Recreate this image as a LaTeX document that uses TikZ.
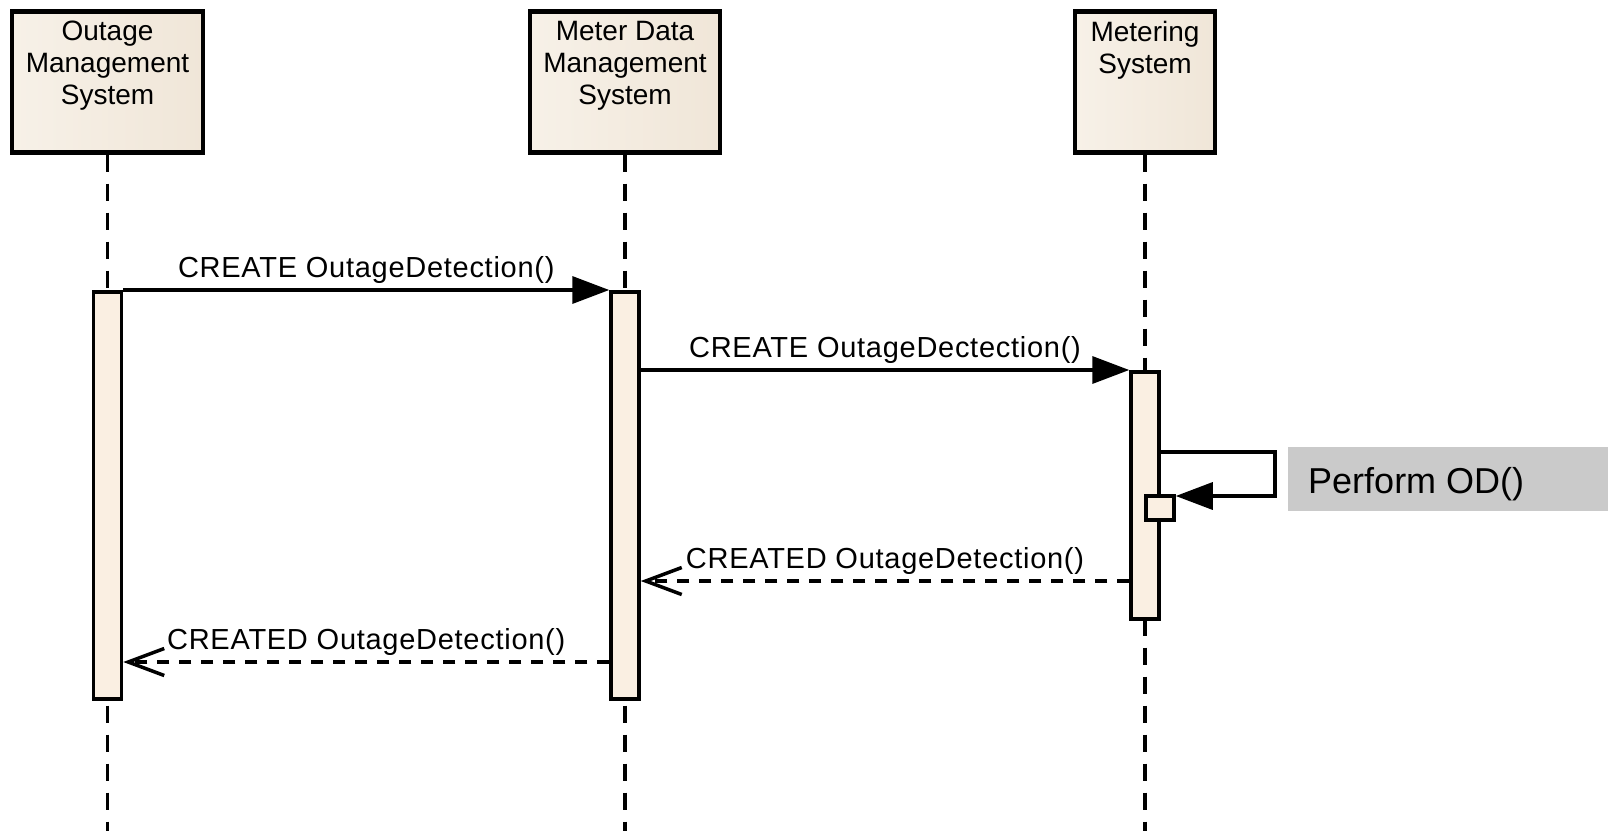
\documentclass[tikz,border=0pt]{standalone}
\usepackage{fontspec}
\setmainfont{Liberation Sans}
\newfontfamily\msgfont[LetterSpace=2.5]{Liberation Sans}
\usetikzlibrary{arrows.meta, calc, positioning}

\definecolor{headfill}{HTML}{F7F1E8}
\definecolor{headshade}{HTML}{F0E6D8}
\definecolor{barfill}{HTML}{FAEFE2}
\definecolor{notefill}{HTML}{CACACA}

\begin{document}
\begin{tikzpicture}[x=1pt, y=-1pt,
        head/.style={draw, line width=4.5pt, minimum height=141pt, inner sep=0pt, anchor=north,
            left color=headfill, right color=headshade},
        headtext/.style={align=center, inner sep=0pt, font=\fontsize{28}{32}\selectfont},
        life/.style={line width=3.5pt, dash pattern=on 17pt off 12pt},
        act/.style={draw, line width=3.5pt, fill=barfill, minimum width=28pt, inner sep=0pt, anchor=north},
        call/.style={line width=3.5pt, -{Triangle[length=37pt, width=27pt]}},
        reply/.style={line width=3.5pt, dash pattern=on 12pt off 10pt,
            -{Straight Barb[length=36pt, width=27pt, line width=3.5pt]}},
        msg/.style={above=5pt, inner sep=0pt, font=\msgfont\fontsize{29}{34}\selectfont},
        note/.style={fill=notefill, anchor=north west, minimum width=320pt, minimum height=64pt, inner sep=0pt},
        notetext/.style={inner sep=0pt, font=\fontsize{36}{40}\selectfont}]
        \useasboundingbox (0,0) rectangle (1608,830);
        \coordinate (Bottom) at (0,832);

        \node[head, minimum width=191pt] (Oms) at (107.5,9) {};
        \node[head, minimum width=190pt] (Mdms) at (625,9) {};
        \node[head, minimum width=140pt] (Ms) at (1145,9) {};
        \node[headtext, below=12pt of Oms.north] {Outage\\Management\\System};
        \node[headtext, below=12pt of Mdms.north] {Meter Data\\Management\\System};
        \node[headtext, below=12pt of Ms.north] {Metering\\System};

        \draw[life] (Oms.south) -- (Oms.south |- Bottom);
        \draw[life] (Mdms.south) -- (Mdms.south |- Bottom);
        \draw[life] (Ms.south) -- (Ms.south |- Bottom);

        \node[act, minimum height=407pt] (Aoms) at (Oms.south |- 0,290) {};
        \node[act, minimum height=407pt] (Amdms) at (Mdms.south |- 0,290) {};
        \node[act, minimum height=247pt] (Ams) at (Ms.south |- 0,370) {};
        \node[act, minimum height=24pt] (Mss) at (1160,494) {};

        \coordinate (Turn) at (1275,452);
        \coordinate (R1) at (1145,581);
        \coordinate (R2) at (625,662);

        \draw[call] (Aoms.north east) -- (Amdms.north west)
            node[msg, midway] {CREATE OutageDetection()};
        \draw[call] (Amdms.east |- Ams.north) -- (Ams.north west)
            node[msg, midway] {CREATE OutageDectection()};
        \draw[call] (Ams.east |- Turn) -- (Turn) |- ($(Mss.north east)+(0,2)$);
        \draw[reply] (Ams.west |- R1) -- (Amdms.east |- R1)
            node[msg, midway] {CREATED OutageDetection()};
        \draw[reply] (Amdms.west |- R2) -- (Aoms.east |- R2)
            node[msg, midway] {CREATED OutageDetection()};

        \node[note] (Pod) at (1288,447) {};
        \node[notetext, right=20pt of Pod.west, yshift=-5pt] {Perform OD()};
    \end{tikzpicture}
\end{document}
